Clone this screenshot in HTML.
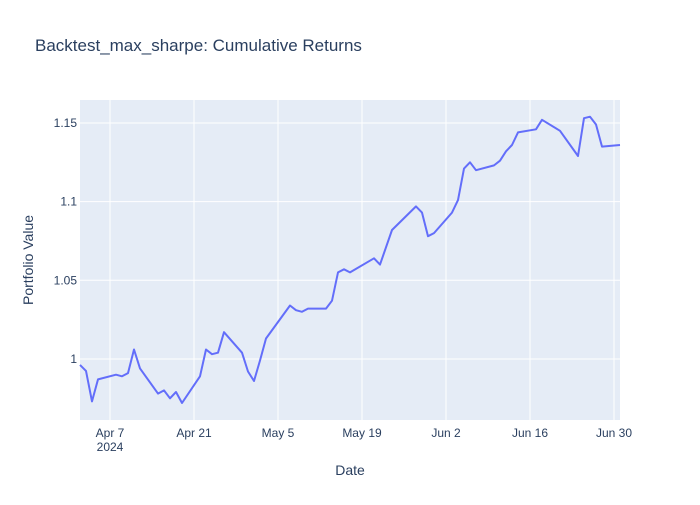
<!DOCTYPE html>
<html><head><meta charset="utf-8"><style>
body{margin:0;background:#fff;font-family:"Liberation Sans",Arial,sans-serif}
svg text{font-family:"Liberation Sans",Arial,sans-serif}
</style></head><body>
<svg id="chart" width="700" height="500" xmlns="http://www.w3.org/2000/svg">
<rect width="700" height="500" fill="#fff"/>
<text x="35" y="51" font-size="17" fill="#2a3f5f">Backtest_max_sharpe: Cumulative Returns</text>
<rect x="80" y="100" width="540" height="320" fill="#e5ecf6"/>
<g id="grid"></g>
<g id="xticks"></g>
<g id="yticks"></g>
<path id="line" fill="none" stroke="#636efa" stroke-width="2" stroke-linejoin="round"/>
<text x="350" y="475" font-size="14" fill="#2a3f5f" text-anchor="middle">Date</text>
<text x="33" y="260" font-size="14" fill="#2a3f5f" text-anchor="middle" transform="rotate(-90 33 260)">Portfolio Value</text>
</svg>
<script>
// day offsets from 2024-04-02
const days = [0,1,2,3,6,7,8,9,10,13,14,15,16,17,20,21,22,23,24,27,28,29,30,31,35,36,37,38,41,42,43,44,45,49,50,52,56,57,58,59,62,63,64,65,66,69,70,71,72,73,76,77,80,83,84,85,86,87,90];
const values = [0.9962,0.9924,0.973,0.987,0.990,0.989,0.991,1.006,0.994,0.978,0.980,0.975,0.979,0.972,0.989,1.006,1.003,1.004,1.017,1.004,0.992,0.986,0.999,1.013,1.034,1.031,1.030,1.032,1.032,1.037,1.055,1.057,1.055,1.064,1.060,1.082,1.097,1.093,1.078,1.080,1.093,1.101,1.121,1.125,1.120,1.123,1.126,1.132,1.136,1.144,1.146,1.152,1.145,1.129,1.153,1.154,1.149,1.135,1.136];
const xTickDays = [5,19,33,47,61,75,89];
const xTickLabels = ["Apr 7","Apr 21","May 5","May 19","Jun 2","Jun 16","Jun 30"];
const yTickValues = [1,1.05,1.1,1.15];
const yTickLabels = ["1","1.05","1.1","1.15"];

const X0=80,X1=620,Y0=420,Y1=100,DMIN=0,DMAX=90,VMIN=0.9612,VMAX=1.1646;
const xs=d=>X0+(d-DMIN)/(DMAX-DMIN)*(X1-X0);
const ys=v=>Y0-(v-VMIN)/(VMAX-VMIN)*(Y0-Y1);
const NS="http://www.w3.org/2000/svg";
const grid=document.getElementById('grid'),xt=document.getElementById('xticks'),yt=document.getElementById('yticks');
function mk(tag,attrs,parent){const e=document.createElementNS(NS,tag);for(const k in attrs)e.setAttribute(k,attrs[k]);parent.appendChild(e);return e;}
xTickDays.forEach((d,i)=>{
  const x=xs(d);
  const g=mk('line',{x1:x,x2:x,y1:Y1,y2:Y0,stroke:'#fff','stroke-width':1},grid);
  
  
  const t=mk('text',{x:x,y:437,'font-size':12,fill:'#2a3f5f','text-anchor':'middle'},xt);
  t.textContent=xTickLabels[i];
  
  
  if(i===0){const t2=mk('text',{x:x,y:451,'font-size':12,fill:'#2a3f5f','text-anchor':'middle'},xt);t2.textContent='2024';
  
  }
});
yTickValues.forEach((v,i)=>{
  const y=ys(v);
  const g=mk('line',{x1:X0,x2:X1,y1:y,y2:y,stroke:'#fff','stroke-width':1},grid);
  
  
  const t=mk('text',{x:77,y:y+4,'font-size':12,fill:'#2a3f5f','text-anchor':'end'},yt);
  t.textContent=yTickLabels[i];
  
  
});
document.getElementById('line').setAttribute('d',days.map((d,i)=>(i?'L':'M')+xs(d).toFixed(1)+','+ys(values[i]).toFixed(1)).join(''));
</script>
</body></html>
